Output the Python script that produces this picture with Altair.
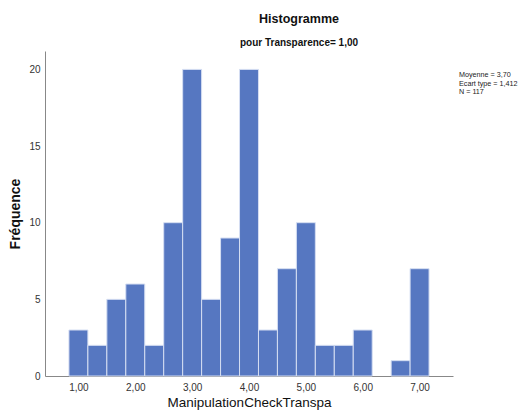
import altair as alt
import pandas as pd

# bin centres (values of ManipulationCheckTranspa) and their frequencies
centres = [1 + k / 3 for k in range(19)]
counts = [3, 2, 5, 6, 2, 10, 20, 5, 9, 20, 3, 7, 10, 2, 2, 3, 0, 1, 7]
tick_values = [1, 2, 3, 4, 5, 6, 7]
stats_lines = ["Moyenne = 3,70", "Ecart type = 1,412", "N = 117"]

df = pd.DataFrame({
    "start": [c - 1 / 6 for c in centres],
    "end": [c + 1 / 6 for c in centres],
    "count": counts,
    "base": [0] * len(counts),
})
df = df[df["count"] > 0]

FONT = "Liberation Sans"

bars = alt.Chart(df).mark_bar(
    color="#5677c1", stroke="#d5def2", strokeWidth=1, orient="vertical"
).encode(
    x=alt.X("start:Q",
            scale=alt.Scale(domain=[0.5, 7.5], nice=False, zero=False),
            axis=alt.Axis(values=tick_values, labelExpr="replace(format(datum.value, '.2f'), '.', ',')",
                          title="ManipulationCheckTranspa", ticks=False, grid=False,
                          labelPadding=6, titlePadding=3, titleFontSize=13.5,
                          titleFontWeight="normal", labelFontSize=10)),
    x2="end:Q",
    y=alt.Y("count:Q",
            scale=alt.Scale(domain=[0, 21.2], nice=False),
            axis=alt.Axis(values=[0, 5, 10, 15, 20], title="Fréquence", ticks=False, grid=False,
                          labelPadding=5, titlePadding=6, titleFontSize=14,
                          titleFontWeight="bold", labelFontSize=10)),
    y2="base:Q",
)

stat_layers = []
for i, line in enumerate(stats_lines):
    stat_layers.append(
        alt.Chart(pd.DataFrame({"t": [line]})).mark_text(
            align="left", baseline="middle", fontSize=7.2, font=FONT, color="#222"
        ).encode(x=alt.value(414), y=alt.value(24 + 8.5 * i), text="t:N")
    )

chart = alt.layer(bars, *stat_layers).properties(
    width=408,
    height=325,
    autosize=alt.AutoSizeParams(type="none"),
    padding={"left": 37, "top": 43, "right": 66, "bottom": 34},
    title=alt.TitleParams(
        text="Histogramme",
        subtitle="pour Transparence= 1,00",
        anchor="middle",
        dx=50,
        offset=3,
        fontSize=12.5,
        fontWeight="bold",
        subtitleFontSize=10,
        subtitleFontWeight="bold",
        subtitlePadding=13,
        font=FONT,
        subtitleFont=FONT,
        color="#111",
        subtitleColor="#111",
    ),
).configure_view(stroke=None).configure_axis(
    labelFont=FONT, titleFont=FONT, labelColor="#333", titleColor="#111",
    domainColor="#888", domainWidth=1,
)

chart.save("out.html", embed_options={"renderer": "svg", "actions": False})
